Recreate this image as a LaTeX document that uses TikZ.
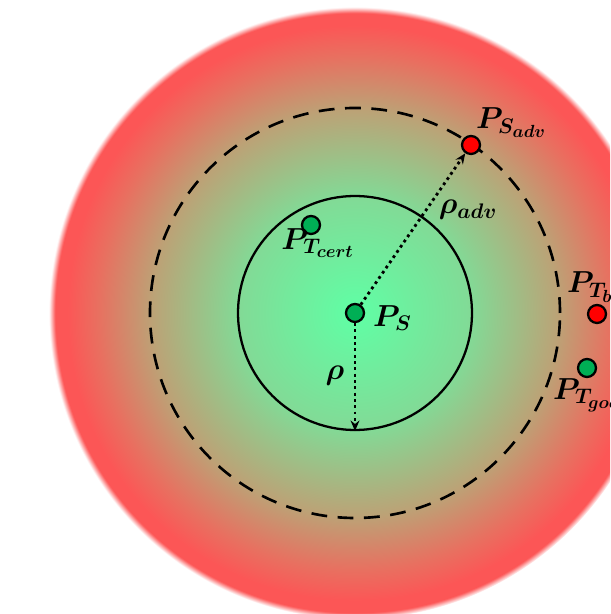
\documentclass[tikz,border=0pt]{standalone}
\usepackage{bm}
\usetikzlibrary{arrows.meta}

\definecolor{zonegreen}{RGB}{95,255,165}
\definecolor{zonelight}{RGB}{130,218,150}
\definecolor{zonetan}{RGB}{188,162,118}
\definecolor{zonerose}{RGB}{232,112,96}
\definecolor{zonered}{RGB}{252,86,86}
\definecolor{dotgreen}{RGB}{0,175,85}
\definecolor{dotred}{RGB}{255,0,0}

\pgfdeclareradialshading{zoneshade}{\pgfpoint{0bp}{0bp}}{%
  color(0bp)=(zonegreen); color(9.5bp)=(zonelight); color(16.6bp)=(zonetan);
  color(21bp)=(zonerose); color(23.5bp)=(zonered); color(24.5bp)=(zonered);
  color(25bp)=(white); color(50bp)=(white)}

\begin{document}
\begin{tikzpicture}[x=0.02cm,y=0.02cm,
  pt/.style={circle,draw=black,line width=1.3pt,minimum size=0.36cm,inner sep=0pt},
  lbl/.style={font=\LARGE,inner sep=1pt},
  radius line/.style={dotted,line width=1.6pt,-{Stealth[length=6pt,width=5pt]}}]
\useasboundingbox (0,0) rectangle (610,614);
\clip (0,0) rectangle (610,614);
\fill[white] (0,0) rectangle (610,614);
% shaded zone
\shade[shading=zoneshade] (355,301) circle (306);
% radii
\draw[line width=1.5pt,dash pattern=on 9pt off 6pt] (355,301) circle (205);
\node[circle,draw=black,line width=1.3pt,minimum size=4.68cm,inner sep=0pt] (inner) at (355,301) {};
% points
\node[pt,fill=dotgreen] (ps) at (355,301) {};
\node[pt,fill=dotred] (psadv) at (471,469) {};
\node[pt,fill=dotgreen] (ptcert) at (311,389) {};
\node[pt,fill=dotred] (ptbad) at (597,300) {};
\node[pt,fill=dotgreen] (ptgood) at (587,246) {};
% arrows
\draw[radius line] (ps) -- (inner.south);
\draw[radius line] (ps) -- (psadv);
% labels
\node[lbl,anchor=west] (lps) at (371,296) {$\bm{P_{S}}$};
\node[lbl,anchor=south west] (lpsadv) at (474,474) {$\bm{P_{S_{adv}}}$};
\node[lbl] (lrhoadv) at (468,404) {$\bm{\rho_{adv}}$};
\node[lbl] (lptcert) at (318,371) {$\bm{P_{T_{cert}}}$};
\node[lbl] (lrho) at (335,238) {$\bm{\rho}$};
\node[lbl,anchor=west] (lptbad) at (565,327) {$\bm{P_{T_{bad}}}$};
\node[lbl,anchor=west] (lptgood) at (551,219) {$\bm{P_{T_{good}}}$};
\end{tikzpicture}
\end{document}
